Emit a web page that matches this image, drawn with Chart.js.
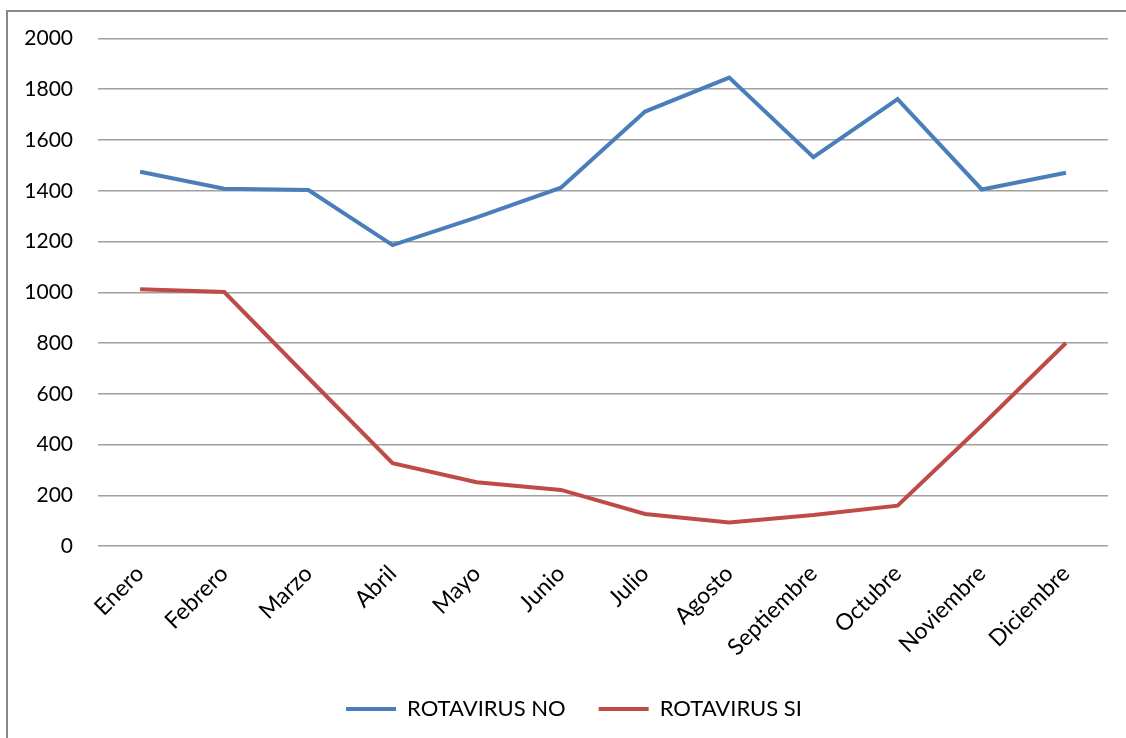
<!DOCTYPE html>
<html lang="es">
<head>
    <meta charset="UTF-8">
    <title>Rotavirus por mes</title>
    <script src="https://cdn.jsdelivr.net/npm/chart.js"></script>
    <style>
        html, body { margin: 0; padding: 0; background: #fff; overflow: hidden; }
        .frame {
            position: absolute; left: 6px; top: 10px;
            width: 1200px; height: 800px;
            border-left: 2px solid #888; border-top: 2px solid #888;
        }
        .wrap { position: absolute; left: 0; top: 0; width: 1126px; height: 738px; }
    </style>
</head>
<body>
    <div class="frame"></div>
    <div class="wrap"><canvas id="rotaChart" width="1126" height="738"></canvas></div>

    <script>
        const months = ["Enero", "Febrero", "Marzo", "Abril", "Mayo", "Junio", "Julio",
                        "Agosto", "Septiembre", "Octubre", "Noviembre", "Diciembre"];
        const rotavirusNo = [1475, 1408, 1403, 1186, 1295, 1412, 1712, 1846, 1532, 1761, 1405, 1471];
        const rotavirusSi = [1012, 1001, 662, 326, 251, 221, 126, 93, 122, 159, 475, 800];
        const yTicks = { min: 0, max: 2000, step: 200 };

        const font = "Lato, 'Open Sans', sans-serif";

        function makeLine(label, data, color) {
            return {
                label: label,
                data: data,
                borderColor: color,
                backgroundColor: color,
                borderWidth: 4,
                pointRadius: 0,
                tension: 0,
                fill: false
            };
        }

        // centre the legend under the plot area rather than the whole canvas
        const legendShift = {
            id: "legendShift",
            afterLayout(chart) {
                if (chart.legend) chart.legend.left += 40;
            }
        };

        const ctx = document.getElementById("rotaChart").getContext("2d");
        new Chart(ctx, {
            type: "line",
            data: {
                labels: months,
                datasets: [
                    makeLine("ROTAVIRUS NO", rotavirusNo, "#4a7ebb"),
                    makeLine("ROTAVIRUS SI", rotavirusSi, "#be4b48")
                ]
            },
            plugins: [legendShift],
            options: {
                responsive: false,
                animation: false,
                devicePixelRatio: 1,
                layout: { padding: { top: 38.5, right: 18, bottom: 8, left: 0 } },
                plugins: {
                    tooltip: { enabled: false },
                    legend: {
                        position: "bottom",
                        labels: {
                            usePointStyle: true,
                            pointStyle: "line",
                            pointStyleWidth: 50,
                            padding: 33,
                            color: "#000",
                            font: { family: font, size: 22 }
                        }
                    }
                },
                scales: {
                    x: {
                        offset: true,
                        grid: { display: false, drawTicks: false },
                        border: { display: false },
                        ticks: {
                            minRotation: 45,
                            maxRotation: 45,
                            padding: 14,
                            color: "#000",
                            font: { family: font, size: 23 }
                        },
                        afterFit: scale => { scale.height = 119; }
                    },
                    y: {
                        min: yTicks.min,
                        max: yTicks.max,
                        grid: { color: "#a0a0a0", lineWidth: 1.5, drawTicks: false },
                        border: { display: false },
                        ticks: {
                            stepSize: yTicks.step,
                            padding: 25,
                            color: "#000",
                            font: { family: font, size: 21 },
                            callback: v => String(v)
                        },
                        afterFit: scale => { scale.width = 98; }
                    }
                }
            }
        });
    </script>
</body>
</html>
